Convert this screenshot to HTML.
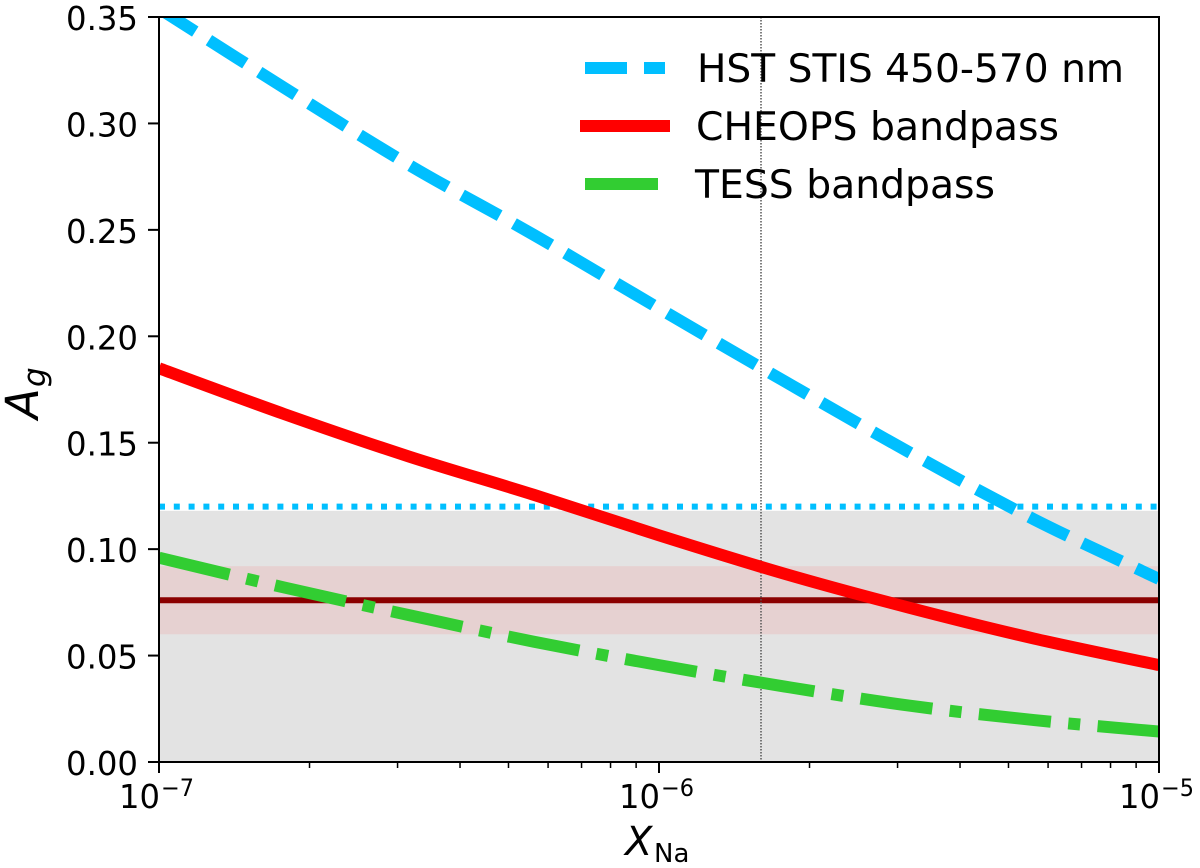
<!DOCTYPE html>
<html>
<head>
<meta charset="utf-8">
<title>Geometric albedo versus sodium abundance</title>
<style>
html,body{margin:0;padding:0;background:#fff;width:1200px;height:868px;overflow:hidden}
svg{display:block}
text{font-family:"DejaVu Sans","Liberation Sans",sans-serif;fill:#000}
</style>
</head>
<body>
<svg id="chart" width="1200" height="868" viewBox="0 0 1200 868" xmlns="http://www.w3.org/2000/svg">
<defs><clipPath id="plot-clip"><rect x="159" y="17" width="1000" height="745"></rect></clipPath></defs>
<g id="plot" clip-path="url(#plot-clip)"></g>
<g id="frame"></g>
<g id="legend"></g>
</svg>
<script>
// Chart data
const logX = [-7, -6.75, -6.5, -6.25, -6, -5.75, -5.5, -5.25, -5];
const hstValues = [0.354, 0.3168, 0.2805, 0.2476, 0.2131, 0.179, 0.1456, 0.114, 0.086];
const cheopsValues = [0.185, 0.1635, 0.1435, 0.1255, 0.1065, 0.0885, 0.0725, 0.058, 0.0455];
const tessValues = [0.096, 0.082, 0.069, 0.0565, 0.0455, 0.0355, 0.0265, 0.0197, 0.0143];
const yTicks = [0, 0.05, 0.10, 0.15, 0.20, 0.25, 0.30, 0.35];
const xMajorExponents = [-7, -6, -5];
const xMinorFactors = [2, 3, 4, 5, 6, 7, 8, 9];
const hstUpperLimit = 0.12;
const greyBand = [0, 0.118];
const cheopsBand = [0.06, 0.092];
const cheopsMeasured = 0.076;
const referenceLogX = -5.796;

const NS = 'http://www.w3.org/2000/svg';
const plotLeft = 159, plotRight = 1159, plotTop = 17, plotBottom = 762;
const xScale = v => plotLeft + (v - (-7)) / 2 * (plotRight - plotLeft);
const yScale = v => plotBottom - v / 0.35 * (plotBottom - plotTop);

const plot = document.getElementById('plot');
const frame = document.getElementById('frame');
const legend = document.getElementById('legend');

function make(parent, tag, attrs, txt) {
  const el = document.createElementNS(NS, tag);
  for (const k in attrs) el.setAttribute(k, attrs[k]);
  if (txt !== undefined) el.textContent = txt;
  parent.appendChild(el);
  return el;
}

function curvePath(values) {
  const p = logX.map((v, i) => [xScale(v), yScale(values[i])]);
  let d = 'M' + p[0][0] + ' ' + p[0][1];
  for (let i = 0; i < p.length - 1; i++) {
    const a = p[Math.max(i - 1, 0)], b = p[i], c = p[i + 1], e = p[Math.min(i + 2, p.length - 1)];
    d += ' C' + (b[0] + (c[0] - a[0]) / 6) + ' ' + (b[1] + (c[1] - a[1]) / 6) + ' ' +
      (c[0] - (e[0] - b[0]) / 6) + ' ' + (c[1] - (e[1] - b[1]) / 6) + ' ' + c[0] + ' ' + c[1];
  }
  return d;
}

// Shaded bands
const grey = make(plot, 'rect', {x: plotLeft, y: yScale(greyBand[1]), width: plotRight - plotLeft, height: yScale(greyBand[0]) - yScale(greyBand[1]), fill: '#e3e3e3'});


const pink = make(plot, 'rect', {x: plotLeft, y: yScale(cheopsBand[1]), width: plotRight - plotLeft, height: yScale(cheopsBand[0]) - yScale(cheopsBand[1]), fill: '#e6d1d1'});



// Horizontal reference lines
const dotted = make(plot, 'line', {x1: plotLeft, x2: plotRight, y1: yScale(hstUpperLimit), y2: yScale(hstUpperLimit), stroke: '#00bfff', 'stroke-width': 6, 'stroke-dasharray': '6 8.8'});


const measured = make(plot, 'line', {x1: plotLeft, x2: plotRight, y1: yScale(cheopsMeasured), y2: yScale(cheopsMeasured), stroke: '#8b0000', 'stroke-width': 6});



// Vertical reference line
const vline = make(plot, 'line', {x1: xScale(referenceLogX), x2: xScale(referenceLogX), y1: plotTop, y2: plotBottom, stroke: '#555', 'stroke-width': 1.5, 'stroke-dasharray': '1.5 1.5'});



// Series curves
const hstCurve = make(plot, 'path', {d: curvePath(hstValues), fill: 'none', stroke: '#00bfff', 'stroke-width': 12, 'stroke-dasharray': '43 16.3'});


const cheopsCurve = make(plot, 'path', {d: curvePath(cheopsValues), fill: 'none', stroke: '#ff0000', 'stroke-width': 12});


const tessCurve = make(plot, 'path', {d: curvePath(tessValues), fill: 'none', stroke: '#32cd32', 'stroke-width': 12, 'stroke-dasharray': '72.5 17.4 12 17.4'});



// Axes frame
const border = make(frame, 'rect', {x: plotLeft, y: plotTop, width: plotRight - plotLeft, height: plotBottom - plotTop, fill: 'none', stroke: '#000', 'stroke-width': 2});



// Y ticks
yTicks.forEach(v => {
  const tick = make(frame, 'line', {x1: plotLeft - 11, x2: plotLeft, y1: yScale(v), y2: yScale(v), stroke: '#000', 'stroke-width': 2});
  
  
  const label = make(frame, 'text', {x: 138, y: yScale(v) + 13, 'text-anchor': 'end', 'font-size': 33, textLength: 72, lengthAdjust: 'spacingAndGlyphs'}, v.toFixed(2));
  
  
});

// X major ticks and labels
xMajorExponents.forEach(e => {
  const x = xScale(e);
  const tick = make(frame, 'line', {x1: x, x2: x, y1: plotBottom, y2: plotBottom + 11, stroke: '#000', 'stroke-width': 2});
  
  
  const base = make(frame, 'text', {x: x + 1, y: 808, 'text-anchor': 'end', 'font-size': 33, textLength: 41, lengthAdjust: 'spacingAndGlyphs'}, '10');
  
  
  const sup = make(frame, 'text', {x: x + 2, y: 796, 'font-size': 24, textLength: 33, lengthAdjust: 'spacingAndGlyphs'}, '\u2212' + Math.abs(e));
  
  
});

// X minor ticks
xMajorExponents.slice(0, -1).forEach(e => {
  xMinorFactors.forEach(f => {
    const x = xScale(e + Math.log10(f));
    const tick = make(frame, 'line', {x1: x, x2: x, y1: plotBottom, y2: plotBottom + 6, stroke: '#000', 'stroke-width': 1.5});
    
    
  });
});

// Axis titles
const xTitle = make(frame, 'text', {x: 625, y: 855, 'font-size': 40, 'font-style': 'italic'}, 'X');


const xSub = make(frame, 'text', {x: 654, y: 862, 'font-size': 26}, 'Na');


const yTitle = make(frame, 'text', {transform: 'translate(38 419) rotate(-90)', 'font-size': 45, 'font-style': 'italic'}, 'A');


const ySub = make(frame, 'text', {transform: 'translate(45 387) rotate(-90)', 'font-size': 31, 'font-style': 'italic'}, 'g');



// Legend
const hstKey = make(legend, 'path', {d: 'M585 68 H627 M644 68 H665', fill: 'none', stroke: '#00bfff', 'stroke-width': 12});


const hstText = make(legend, 'text', {x: 697, y: 82, 'font-size': 39, textLength: 427, lengthAdjust: 'spacingAndGlyphs'}, 'HST STIS 450-570 nm');


const cheopsKey = make(legend, 'path', {d: 'M580 126 H670', fill: 'none', stroke: '#ff0000', 'stroke-width': 12});


const cheopsText = make(legend, 'text', {x: 696, y: 140, 'font-size': 39, textLength: 363, lengthAdjust: 'spacingAndGlyphs'}, 'CHEOPS bandpass');


const tessKey = make(legend, 'path', {d: 'M585 184 H658', fill: 'none', stroke: '#32cd32', 'stroke-width': 12});


const tessText = make(legend, 'text', {x: 695, y: 198, 'font-size': 39, textLength: 300, lengthAdjust: 'spacingAndGlyphs'}, 'TESS bandpass');


</script>
</body>
</html>
